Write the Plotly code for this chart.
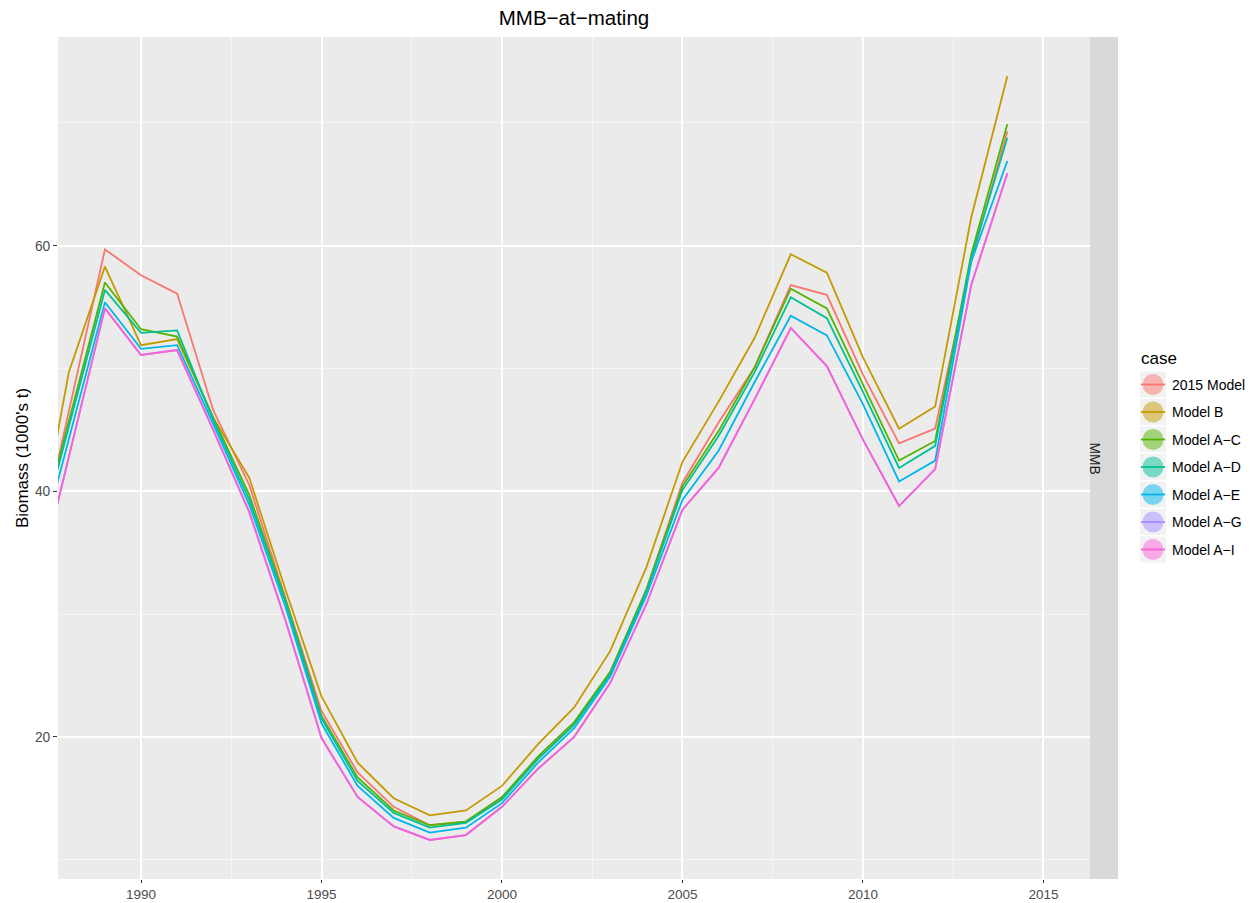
import plotly.graph_objects as go

# Mature male biomass at mating (1000's t) by assessment model run
years = list(range(1987, 2015))

model_2015 = [33.3, 46.5, 59.7, 57.6, 56.1, 46.6, 40.5, 31.3, 22.1, 17.1, 14.3, 12.8, 13.1, 15.0,
              18.2, 21.0, 25.3, 32.0, 40.7, 45.6, 50.1, 56.8, 56.0, 49.5, 43.9, 45.1, 58.7, 69.3]
model_b = [33.7, 49.7, 58.3, 51.9, 52.4, 46.0, 41.1, 32.0, 23.3, 17.9, 15.0, 13.6, 14.0, 16.0,
           19.4, 22.4, 27.0, 33.8, 42.4, 47.3, 52.5, 59.3, 57.8, 50.9, 45.1, 46.9, 62.3, 73.8]
model_a_c = [34.4, 45.7, 57.0, 53.2, 52.6, 46.0, 39.7, 31.2, 21.7, 16.7, 14.0, 12.8, 13.1, 15.1,
             18.4, 21.2, 25.3, 32.0, 40.4, 44.9, 50.1, 56.5, 54.9, 48.7, 42.5, 44.1, 59.3, 69.9]
model_a_d = [34.1, 45.2, 56.4, 52.9, 53.1, 45.8, 39.3, 31.0, 21.5, 16.4, 13.8, 12.6, 13.0, 14.9,
             18.2, 21.0, 25.1, 31.8, 40.1, 44.5, 49.7, 55.8, 54.1, 48.1, 41.9, 43.7, 59.0, 68.8]
model_a_e = [33.1, 44.2, 55.4, 51.6, 51.9, 45.5, 38.9, 30.6, 21.1, 16.0, 13.4, 12.2, 12.6, 14.6,
             17.9, 20.7, 24.9, 31.5, 39.3, 43.3, 48.9, 54.3, 52.7, 47.1, 40.8, 42.5, 58.7, 66.9]
model_a_g = [30.7, 42.8, 54.9, 51.1, 51.5, 45.0, 38.3, 29.5, 19.9, 15.1, 12.7, 11.6, 12.0, 14.3,
             17.4, 20.0, 24.4, 30.8, 38.5, 41.9, 47.5, 53.3, 50.2, 44.2, 38.8, 41.8, 56.8, 65.9]
model_a_i = [30.7, 42.8, 54.9, 51.1, 51.5, 45.0, 38.3, 29.5, 19.9, 15.1, 12.7, 11.6, 12.0, 14.3,
             17.4, 20.0, 24.4, 30.8, 38.5, 41.9, 47.5, 53.3, 50.2, 44.2, 38.8, 41.8, 56.8, 65.9]

case_names = ["2015 Model", "Model B", "Model A−C", "Model A−D", "Model A−E", "Model A−G", "Model A−I"]
case_values = [model_2015, model_b, model_a_c, model_a_d, model_a_e, model_a_g, model_a_i]
case_colors = ["#F8766D", "#C49A00", "#53B400", "#00C094", "#00B6EB", "#A58AFF", "#FB61D7"]

x_ticks = [1990, 1995, 2000, 2005, 2010, 2015]
y_ticks = [20, 40, 60]

FONT = "Liberation Sans, Arial, sans-serif"

fig = go.Figure()
for name, vals, col in zip(case_names, case_values, case_colors):
    fig.add_trace(go.Scatter(x=years, y=vals, mode="lines", name=name,
                             line=dict(color=col, width=1.8), showlegend=False))

# Figure geometry (pixels) used to place the facet strip and the legend
W, H = 1257, 903
L, R, T, B = 58, 1090, 37, 879
pw, ph = R - L, B - T


def px(xp):
    return (xp - L) / pw


def py(yp):
    return (B - yp) / ph


shapes = []
annotations = []

# facet strip on the right side of the panel
shapes.append(dict(type="rect", xref="paper", yref="paper", x0=1.0, x1=px(1118),
                   y0=0, y1=1, fillcolor="#D9D9D9", line=dict(width=0), layer="below"))
annotations.append(dict(xref="paper", yref="paper", x=px(1104), y=py(458), text="MMB",
                        showarrow=False, textangle=90, font=dict(family=FONT, size=13.8, color="#1A1A1A")))

# legend: title, keys with translucent dots and lines, labels
annotations.append(dict(xref="paper", yref="paper", x=px(1139), y=py(358), text="case",
                        showarrow=False, xanchor="left", yanchor="middle",
                        font=dict(family=FONT, size=17, color="#000000")))
row0, step = 384.5, 27.5
for i, (name, col) in enumerate(zip(case_names, case_colors)):
    cy = row0 + i * step
    shapes.append(dict(type="rect", xref="paper", yref="paper", x0=px(1140), x1=px(1166),
                       y0=py(cy + 13), y1=py(cy - 13), fillcolor="#F2F2F2", line=dict(width=0)))
    shapes.append(dict(type="circle", xref="paper", yref="paper", x0=px(1142.5), x1=px(1163.5),
                       y0=py(cy + 10.5), y1=py(cy - 10.5), fillcolor=col, opacity=0.5, line=dict(width=0)))
    shapes.append(dict(type="line", xref="paper", yref="paper", x0=px(1141), x1=px(1165),
                       y0=py(cy), y1=py(cy), line=dict(color=col, width=1.8)))
    annotations.append(dict(xref="paper", yref="paper", x=px(1170), y=py(cy), text=name,
                            showarrow=False, xanchor="left", yanchor="middle",
                            font=dict(family=FONT, size=14, color="#000000")))

fig.update_layout(
    width=W, height=H,
    margin=dict(l=L, r=W - R, t=T, b=H - B),
    paper_bgcolor="white",
    plot_bgcolor="#EBEBEB",
    title=dict(text="MMB−at−mating", x=(L + R) / 2 / W, xanchor="center", y=1 - 18 / H, yanchor="middle",
               font=dict(family=FONT, size=20.5, color="#000000")),
    shapes=shapes,
    annotations=annotations,
    showlegend=False,
    xaxis=dict(range=[1987.70, 2016.29], tickmode="array", tickvals=x_ticks,
               ticktext=[str(v) for v in x_ticks], automargin=False,
               showgrid=True, gridcolor="white", gridwidth=1.6, zeroline=False,
               ticks="outside", ticklen=3, tickcolor="#333333", tickwidth=1.2,
               tickfont=dict(family=FONT, size=13.5, color="#4D4D4D"),
               minor=dict(dtick=2.5, tick0=1987.5, showgrid=True, gridcolor="#F7F7F7", gridwidth=0.8, ticks=""),
               showline=False),
    yaxis=dict(range=[8.42, 77.0], tickmode="array", tickvals=y_ticks,
               ticktext=[str(v) for v in y_ticks], automargin=False,
               showgrid=True, gridcolor="white", gridwidth=1.6, zeroline=False,
               ticks="outside", ticklen=4, tickcolor="#333333", tickwidth=1.2,
               tickfont=dict(family=FONT, size=13.8, color="#4D4D4D"),
               minor=dict(dtick=10, tick0=0, showgrid=True, gridcolor="#F7F7F7", gridwidth=0.8, ticks=""),
               title=dict(text="Biomass (1000's t)", standoff=1,
                          font=dict(family=FONT, size=17, color="#000000")),
               showline=False),
)

fig.write_html("out.html")
